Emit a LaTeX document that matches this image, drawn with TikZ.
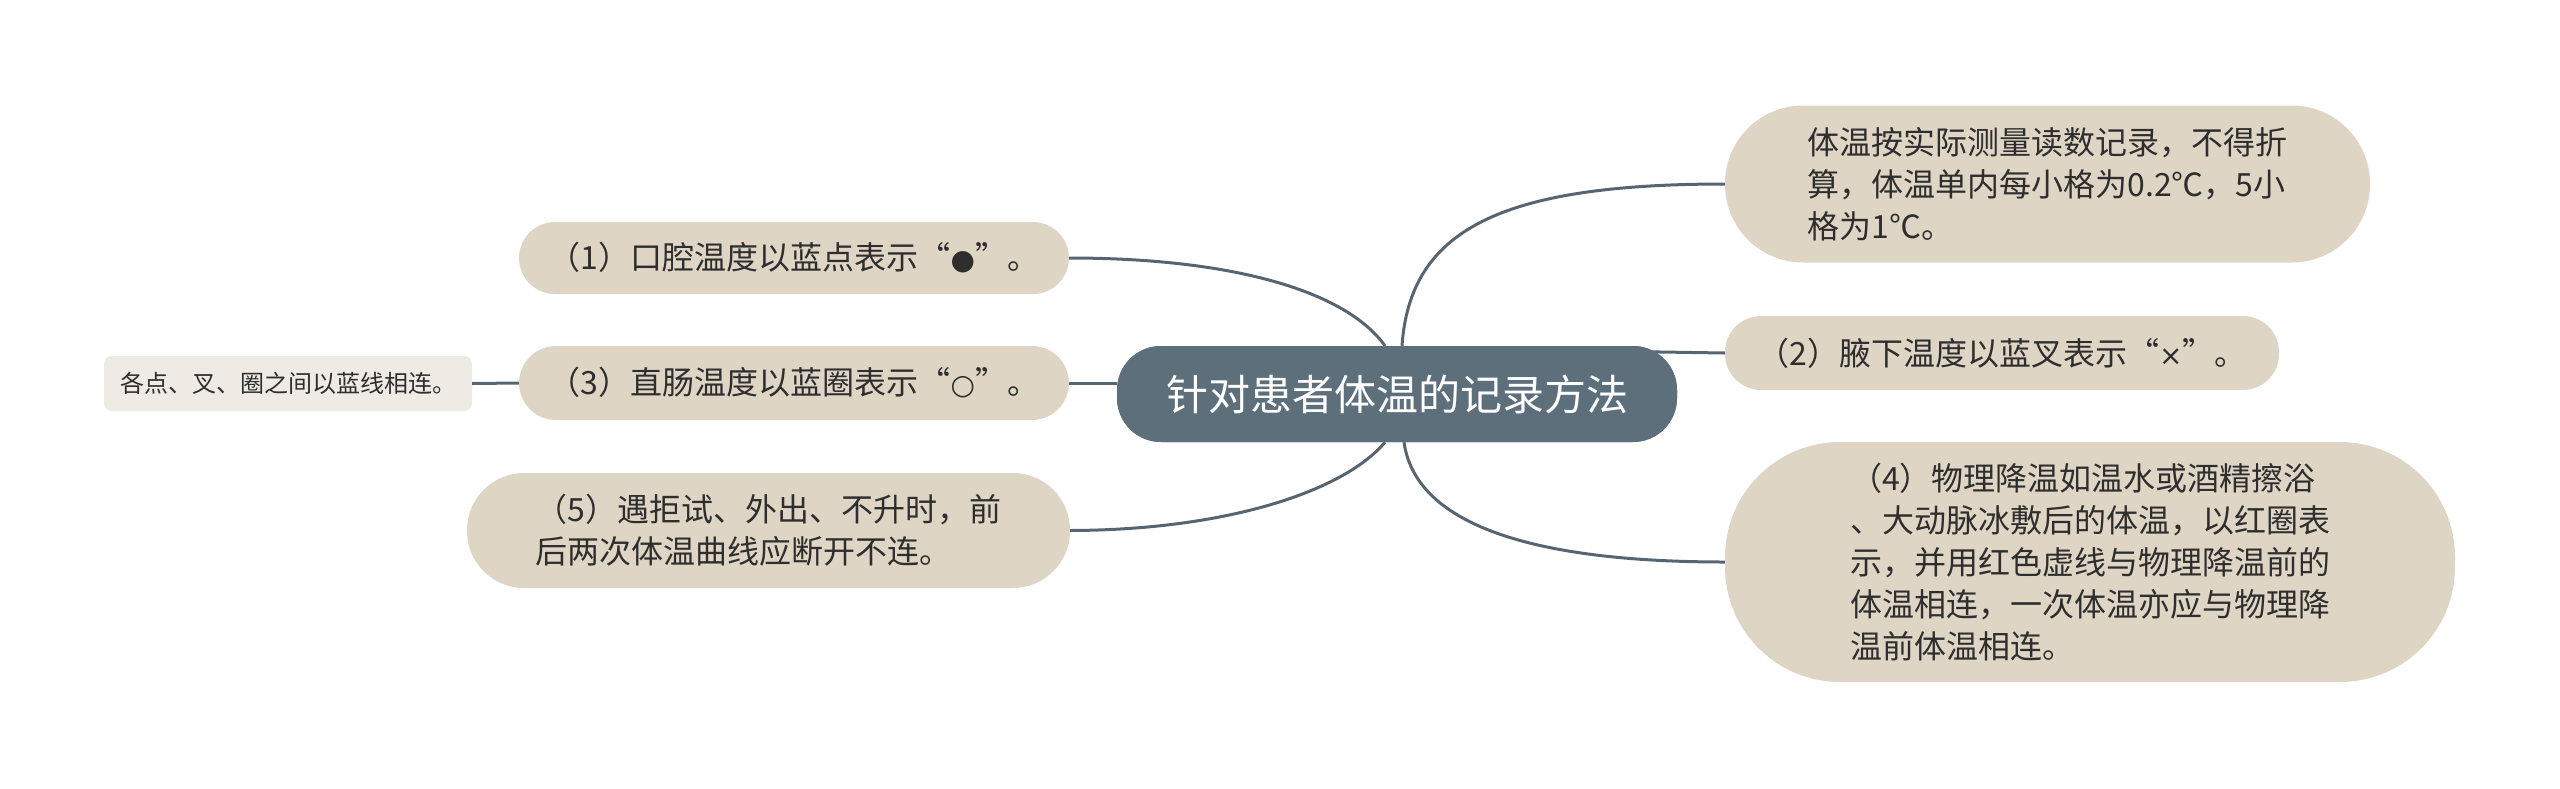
\documentclass[tikz,border=0pt]{standalone}
\usepackage{fontspec}
\setmainfont{Noto Sans CJK SC}
\newfontfamily\symf{DejaVu Sans}
\newcommand{\smallsym}[1]{{\symf\fontsize{28}{42}\selectfont #1}}
\definecolor{beige}{HTML}{DFD5C5}
\definecolor{leafc}{HTML}{EFEBE4}
\definecolor{slate}{HTML}{5D6F7B}
\definecolor{linec}{HTML}{56656F}
\definecolor{txt}{HTML}{2E2E2E}
\tikzset{
  topic/.style={draw=none, fill=beige, text=txt, align=left, inner sep=0pt,
    font=\fontsize{32}{42}\selectfont},
  leafbox/.style={draw=none, fill=leafc, text=txt, align=left, inner sep=0pt,
    rounded corners=8pt, font=\fontsize{24}{30}\selectfont},
  centralbox/.style={draw=none, fill=slate, text=white, inner sep=0pt,
    rounded corners=44pt, font=\fontsize{42}{50}\selectfont},
  conn/.style={draw=linec, line width=3pt}
}
\begin{document}
\begin{tikzpicture}[x=1pt,y=-1pt]
\useasboundingbox (0,0) rectangle (2560,788);
% nodes
\node[centralbox, minimum width=560pt, minimum height=96pt] (c) at (1397,394) {针对患者体温的记录方法};
\node[topic, rounded corners=78pt, minimum width=645pt, minimum height=157pt] (r1) at (2047.5,184)
  {体温按实际测量读数记录，不得折\\算，体温单内每小格为0.2℃，5小\\格为1℃。};
\node[topic, rounded corners=36pt, minimum width=554pt, minimum height=74pt] (r2) at (2002,353)
  {（2）腋下温度以蓝叉表示“\smallsym{×}”。};
\node[topic, rounded corners=115pt, minimum width=730pt, minimum height=240pt] (r4) at (2090,562)
  {（4）物理降温如温水或酒精擦浴\\、大动脉冰敷后的体温，以红圈表\\示，并用红色虚线与物理降温前的\\体温相连，一次体温亦应与物理降\\温前体温相连。};
\node[topic, rounded corners=36pt, minimum width=550pt, minimum height=72pt] (l1) at (794,258)
  {（1）口腔温度以蓝点表示“\smallsym{●}”。};
\node[topic, rounded corners=37pt, minimum width=550pt, minimum height=74pt] (l3) at (794,383)
  {（3）直肠温度以蓝圈表示“\smallsym{○}”。};
\node[topic, rounded corners=57pt, minimum width=603pt, minimum height=115pt] (l5) at (768.5,530.5)
  {（5）遇拒试、外出、不升时，前\\后两次体温曲线应断开不连。};
\node[leafbox, minimum width=368pt, minimum height=55pt] (lf) at (288,383.5)
  {各点、叉、圈之间以蓝线相连。};
% connectors
\draw[conn] (l1.east) .. controls (1230,258) and (1345,290) .. ([xshift=-12pt]c.north);
\draw[conn] (l5.east) .. controls (1230,530) and (1345,490) .. ([xshift=-12pt]c.south);
\draw[conn] (l3.east) -- (c.west |- l3.east);
\draw[conn] (lf.east) -- (l3.west);
\draw[conn] ([xshift=5pt]c.north) .. controls (1410,230) and (1500,184) .. (r1.west);
\draw[conn] ([xshift=7pt]c.south) .. controls (1415,520) and (1520,562) .. (r4.west);
\draw[conn] ([xshift=-30pt,yshift=-6pt]c.north east) -- (r2.west);
% redraw central node on top of connector ends
\node[centralbox, minimum width=560pt, minimum height=96pt] at (c) {针对患者体温的记录方法};
\end{tikzpicture}
\end{document}
